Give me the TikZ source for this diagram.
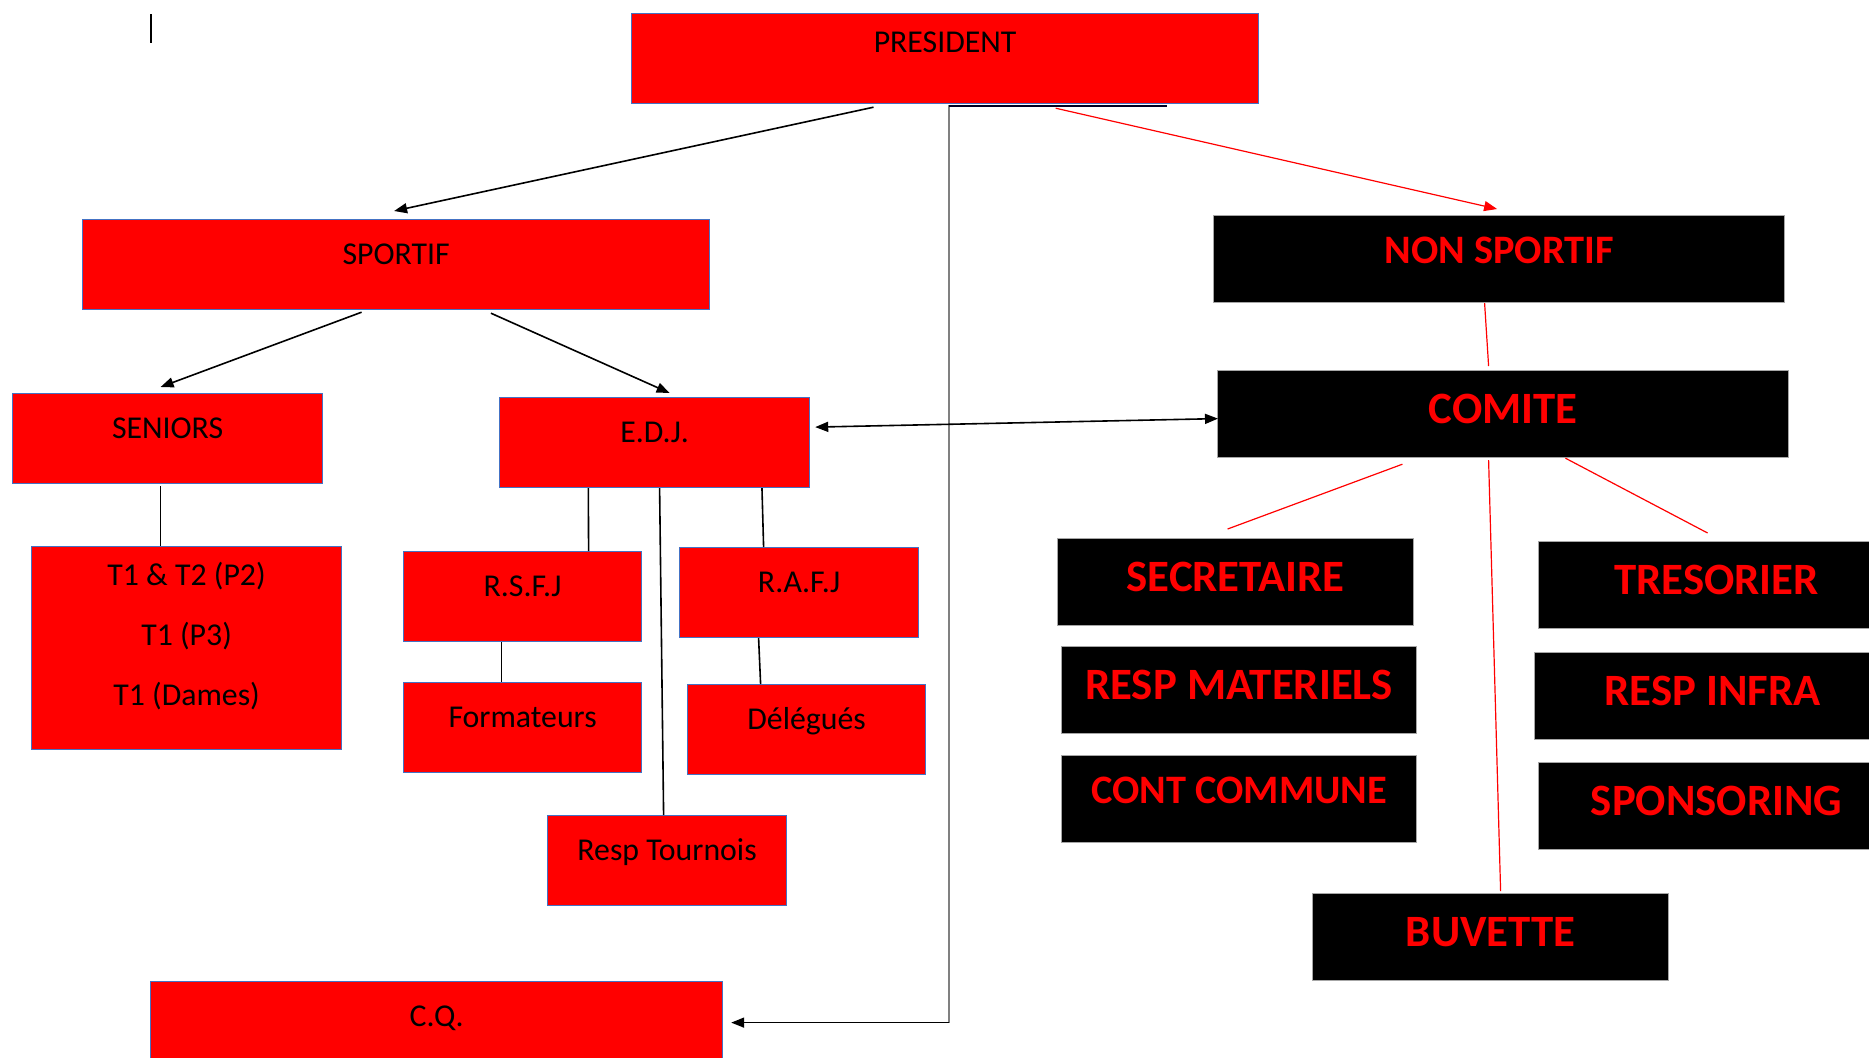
\documentclass[tikz,border=0pt]{standalone}
\usepackage{fontspec}
\setmainfont{Carlito}
\usetikzlibrary{calc,arrows.meta}

\definecolor{boxblue}{RGB}{68,114,196}
\definecolor{wiregray}{RGB}{128,128,128}

\tikzset{
	redbox/.style={draw=boxblue, line width=0.6pt, fill=red, text=black, anchor=north west,
		inner ysep=0pt, text height=22.5pt, text depth=22.5pt, font=\fontsize{15.9}{19}\selectfont},
	blackbox/.style={draw=black!35, line width=0.6pt, fill=black, text=red, anchor=north west,
		inner ysep=0pt, text height=26.6pt, text depth=16.9pt, font=\bfseries\fontsize{22.4}{27}\selectfont},
	smallblack/.style={blackbox, text height=23.7pt, text depth=19.8pt, font=\bfseries\fontsize{20.2}{24}\selectfont},
	link/.style={line width=0.8pt, black},
	greylink/.style={line width=0.9pt, wiregray},
	redlink/.style={line width=0.6pt, red},
	arrowto/.style={-{Triangle[length=6.5pt,width=5pt]}},
	bothto/.style={{Triangle[length=6.5pt,width=5pt]}-{Triangle[length=6.5pt,width=5pt]}}
}

\begin{document}
\begin{tikzpicture}[x=0.5pt, y=-0.5pt]
			%%%%% START %%%%%
			
			\clip (0, 0) rectangle (1869, 1057);
			\fill[white] (0, 0) rectangle (1869, 1057);
			\draw[line width=0.6pt] (151, 14) -- (151, 43);
			
			% sportif side
			\node[redbox, minimum width=313.5pt, text height=19.5pt, text depth=25.5pt] (pres) at (631, 13) {PRESIDENT};
			\node[redbox, minimum width=313.5pt] (sport) at (82, 219) {SPORTIF};
			\node[redbox, minimum width=155pt] (seniors) at (12, 393) {SENIORS};
			\node[redbox, minimum width=155pt] (edj) at (499, 397) {E.D.J.};
			\node[redbox, minimum width=155pt, text height=19.5pt, text depth=82pt] (teams) at (31, 546)
				{\begin{tabular}[t]{@{}c@{}}T1 \& T2 (P2)\\[11pt]T1 (P3)\\[11pt]T1 (Dames)\end{tabular}};
			\node[redbox, minimum width=119pt] (rsfj) at (403, 551) {R.S.F.J};
			\node[redbox, minimum width=119.5pt] (rafj) at (679, 547) {R.A.F.J};
			\node[redbox, minimum width=119pt] (form) at (403, 682) {Formateurs};
			\node[redbox, minimum width=119pt] (deleg) at (687, 684) {Délégués};
			\node[redbox, minimum width=119.5pt] (tourn) at (547, 815) {Resp Tournois};
			\node[redbox, minimum width=286pt] (cq) at (150, 981) {C.Q.};
			
			% non sportif side
			\node[smallblack, minimum width=285.5pt] (nonsp) at (1213, 215) {NON SPORTIF};
			\node[blackbox, minimum width=285.5pt] (comite) at (1217, 370) {COMITE};
			\node[blackbox, minimum width=178pt] (secr) at (1057, 538) {SECRETAIRE};
			\node[blackbox, minimum width=177.5pt] (respmat) at (1061, 646) {RESP MATERIELS};
			\node[smallblack, minimum width=177.5pt] (cont) at (1061, 755) {CONT COMMUNE};
			\node[blackbox, minimum width=178pt] (treso) at (1538, 541) {TRESORIER};
			\node[blackbox, minimum width=178pt] (infra) at (1534, 652) {RESP INFRA};
			\node[blackbox, minimum width=178pt] (spons) at (1538, 762) {SPONSORING};
			\node[blackbox, minimum width=178pt] (buv) at (1312, 893) {BUVETTE};
			
			% links
			\coordinate (bend) at ($(pres.south |- cq.east)+(4, -4)$);
			\draw[greylink] ($(pres.south)+(4, 1)$) -- (bend);
			\draw[link, arrowto] (bend) -- ($(cq.east)+(8, -4)$);
			\draw[line width=1.2pt, black!85!blue] ($(pres.south)+(4, 1.5)$) -- ($(pres.south east)+(-92, 1.5)$);
			\draw[link, arrowto] ($(pres.south west)!0.386!(pres.south east)+(0, 3)$) -- ($(sport.north)+(-2, -8)$);
			\draw[redlink, arrowto] ($(pres.south west)!0.676!(pres.south east)+(0, 4)$) -- ($(nonsp.north)+(-2, -6)$);
			
			\draw[link, arrowto] ($(sport.south west)!0.445!(sport.south east)+(0, 2)$) -- ($(seniors.north)+(-7, -6)$);
			\draw[link, arrowto] ($(sport.south west)!0.651!(sport.south east)+(0, 3)$) -- ($(edj.north)+(15, -4)$);
			\draw[link] ($(seniors.south)+(-7, 2)$) -- ($(teams.north)+(-26, 0)$);
			\draw[link] ($(edj.south west)!0.287!(edj.south east)$) -- ($(rsfj.north)+(66, 0)$);
			\draw[link] ($(edj.south)+(5, 0)$) -- ($(tourn.north)+(-3.5, 0)$);
			\draw[link] ($(edj.south west)!0.845!(edj.south east)$) -- ($(rafj.north)+(-35.5, 0)$);
			\draw[link] ($(rsfj.south)+(-21, 0)$) -- ($(form.north)+(-21, 0)$);
			\draw[link] ($(rafj.south)+(-40.5, 0)$) -- ($(deleg.north)+(-46, 0)$);
			\draw[link, bothto] ($(edj.east)+(5, -15.5)$) -- ($(comite.west)+(1, 4.5)$);
			
			\draw[redlink] ($(nonsp.south)+(-14.5, 0)$) -- ($(comite.north)+(-14.5, -4)$);
			\draw[redlink] ($(comite.south west)!0.324!(comite.south east)+(0, 6)$) -- ($(secr.north)+(-8, -9)$);
			\draw[redlink] ($(comite.south)+(-14.5, 2)$) -- ($(buv.north)+(10, -2)$);
			\draw[redlink] ($(comite.south west)!0.609!(comite.south east)$) -- ($(treso.north)+(-9, -8)$);
			
			%%%%% END %%%%%
\end{tikzpicture}
\end{document}
